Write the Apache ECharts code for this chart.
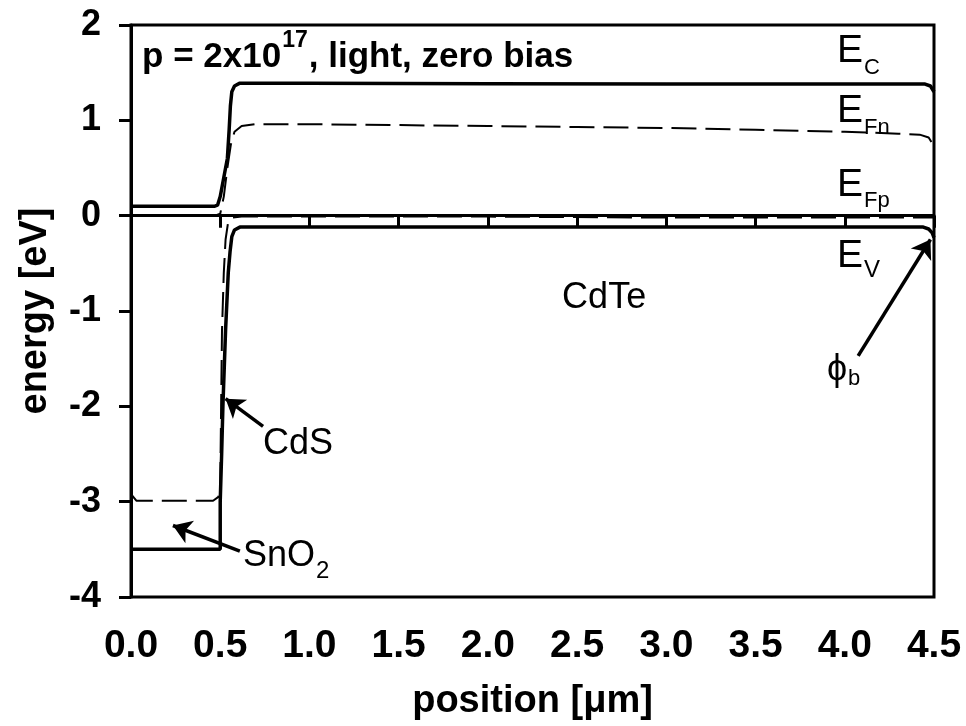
<!DOCTYPE html>
<html><head><meta charset="utf-8">
<script src="https://cdn.jsdelivr.net/npm/echarts@6/dist/echarts.min.js"></script>
<style>html,body{margin:0;padding:0;background:#fff}#c{width:966px;height:726px}</style>
</head><body><div id="c"></div>
<script>
// ---- data ----
const xTickLabels = ['0.0','0.5','1.0','1.5','2.0','2.5','3.0','3.5','4.0','4.5'];
const yTickLabels = ['-4','-3','-2','-1','0','1','2'];

const ecX = [0, 0.47, 0.485, 0.5, 0.52, 0.54, 0.55, 0.557, 0.565, 0.58, 0.61, 0.7, 1.0, 2.0, 3.0, 4.0, 4.45, 4.48, 4.5];
const ecY = [0.1, 0.1, 0.11, 0.2, 0.4, 0.6, 0.9, 1.15, 1.3, 1.36, 1.39, 1.39, 1.39, 1.385, 1.38, 1.38, 1.38, 1.36, 1.3];

const efnX = [0, 0.47, 0.5, 0.52, 0.54, 0.56, 0.58, 0.62, 0.7, 1.0, 1.5, 2.0, 2.5, 3.0, 3.5, 4.0, 4.3, 4.42, 4.47, 4.49, 4.5];
const efnY = [0, 0, 0.02, 0.2, 0.5, 0.75, 0.88, 0.94, 0.96, 0.96, 0.95, 0.94, 0.93, 0.92, 0.9, 0.88, 0.86, 0.85, 0.82, 0.76, 0.69];

const efpX = [0, 0.03, 0.46, 0.49, 0.5, 0.505, 0.51, 0.52, 0.53, 0.545, 0.57, 0.62, 1.0, 2.0, 3.0, 4.0, 4.5];
const efpY = [-2.92, -2.99, -2.99, -2.95, -2.85, -2.0, -1.2, -0.6, -0.25, -0.06, -0.02, -0.01, -0.01, -0.01, -0.02, -0.02, -0.02];

const evX = [0, 0.5, 0.5, 0.508, 0.515, 0.53, 0.545, 0.555, 0.565, 0.58, 0.61, 0.7, 1.0, 2.0, 3.0, 4.0, 4.44, 4.47, 4.49, 4.5];
const evY = [-3.5, -3.5, -3.0, -2.5, -2.0, -1.2, -0.6, -0.38, -0.22, -0.15, -0.12, -0.12, -0.12, -0.12, -0.12, -0.12, -0.12, -0.14, -0.18, -0.23];

// annotation arrows: [tailX, tailY, headX, headY] in data units
const arrowPhi = [4.075, -1.47, 4.48, -0.25];
const arrowCdS = [0.74, -2.21, 0.53, -1.92];
const arrowSnO2 = [0.61, -3.52, 0.235, -3.25];

// ---- chart ----
const pairs = (xs, ys) => xs.map((x, i) => [x, ys[i]]);
const FONT = '"Liberation Sans", Arial, sans-serif';
const chart = echarts.init(document.getElementById('c'));

const solid = w => ({ color: '#000', width: w, type: 'solid' });
const dashed = w => ({ color: '#000', width: w, type: [25, 9] });

chart.setOption({
  animation: false,
  backgroundColor: '#fff',
  grid: { left: 131, right: 32, top: 25, bottom: 127, show: true, borderColor: '#000', borderWidth: 3, backgroundColor: 'transparent' },
  xAxis: {
    type: 'value', min: 0, max: 4.5, interval: 0.5,
    name: 'position [μm]', nameLocation: 'middle', nameGap: 86,
    nameTextStyle: { fontFamily: FONT, fontSize: 38, fontWeight: 'bold', color: '#000' },
    axisLine: { lineStyle: { color: '#000', width: 3 } },
    axisTick: { show: true, inside: false, length: 12, lineStyle: { color: '#000', width: 3 } },
    axisLabel: { margin: 30, fontFamily: FONT, fontSize: 39, fontWeight: 'bold', color: '#000',
      formatter: v => xTickLabels[Math.round(v / 0.5)] },
    splitLine: { show: false }
  },
  yAxis: {
    type: 'value', min: -4, max: 2, interval: 1,
    name: 'energy [eV]', nameLocation: 'middle', nameGap: 76,
    nameTextStyle: { fontFamily: FONT, fontSize: 38, fontWeight: 'bold', color: '#000' },
    axisLine: { lineStyle: { color: '#000', width: 3 } },
    axisTick: { show: true, inside: false, length: 12, lineStyle: { color: '#000', width: 3 } },
    axisLabel: { margin: 30, fontFamily: FONT, fontSize: 36, fontWeight: 'bold', color: '#000',
      formatter: v => yTickLabels[Math.round(v + 4)] },
    splitLine: { show: false }
  },
  series: [
    { name: 'Ec', type: 'line', data: pairs(ecX, ecY), showSymbol: false, lineStyle: solid(3.5) },
    { name: 'EFn', type: 'line', data: pairs(efnX, efnY), showSymbol: false, lineStyle: dashed(2) },
    { name: 'EFp', type: 'line', data: pairs(efpX, efpY), showSymbol: false, lineStyle: dashed(2) },
    { name: 'Ev', type: 'line', data: pairs(evX, evY), showSymbol: false, lineStyle: solid(3.5) },
    { name: 'arrows', type: 'line', data: [], markLine: {
        silent: true, animation: false, symbol: ['none', 'arrow'], symbolSize: 18,
        label: { show: false },
        lineStyle: { color: '#000', width: 3.5, type: 'solid' },
        data: [arrowPhi, arrowCdS, arrowSnO2].map(a => [{ coord: [a[0], a[1]] }, { coord: [a[2], a[3]] }])
      } }
  ]
});

// ---- text annotations (data coords -> pixels) ----
const ctx = document.createElement('canvas').getContext('2d');
function tw(t, size, weight) { ctx.font = (weight || 'normal') + ' ' + size + 'px ' + FONT; return ctx.measureText(t).width; }
const els = [];
function txt(t, px, py, size, weight) {
  els.push({ type: 'text', x: px, y: py, style: { text: t, fill: '#000', font: (weight || 'normal') + ' ' + size + 'px ' + FONT, align: 'left', verticalAlign: 'middle' } });
  return px + tw(t, size, weight);
}
function lab(main, sub, x, y, size, subSize, subDy, weight) {
  const p = chart.convertToPixel({ gridIndex: 0 }, [x, y]);
  const end = txt(main, p[0], p[1], size, weight);
  if (sub) txt(sub, end + 1, p[1] + subDy, subSize, weight);
}
// top title with superscript
(function () {
  const p = chart.convertToPixel({ gridIndex: 0 }, [0.062, 1.665]);
  let e = txt('p = 2x10', p[0], p[1], 35, 'bold');
  e = txt('17', e + 1, p[1] - 16, 23, 'bold');
  txt(', light, zero bias', e + 1, p[1], 35, 'bold');
})();
lab('E', 'C', 3.957, 1.72, 39, 22, 16);
lab('E', 'Fn', 3.957, 1.10, 39, 22, 17);
lab('E', 'Fp', 3.957, 0.316, 39, 22, 15);
lab('E', 'V', 3.957, -0.425, 39, 24, 14);
lab('CdTe', null, 2.416, -0.864, 36);
lab('ϕ', 'b', 3.9, -1.617, 36, 22, 9);
lab('CdS', null, 0.74, -2.40, 36);
lab('SnO', '2', 0.628, -3.571, 36, 24, 15);
chart.setOption({ graphic: els });
</script>
</body></html>
